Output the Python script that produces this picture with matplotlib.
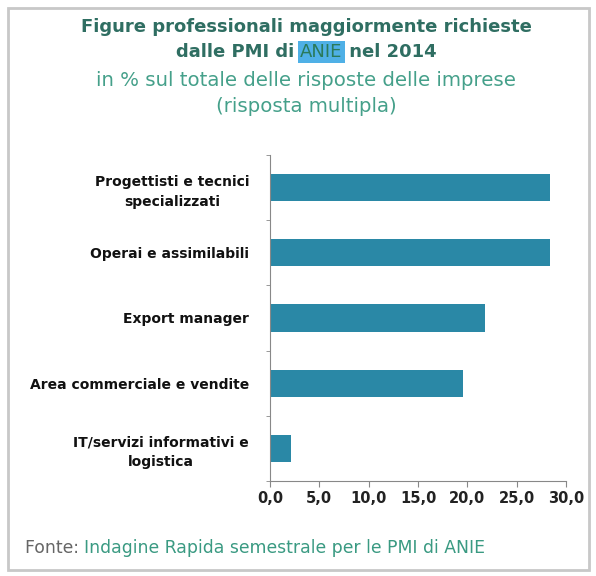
import matplotlib.pyplot as plt
import numpy as np

categorie = ["Progettisti e tecnici\nspecializzati", "Operai e assimilabili", "Export manager",
             "Area commerciale e vendite", "IT/servizi informativi e\nlogistica"]
valori = [28.4, 28.4, 21.8, 19.6, 2.1]
tick_x = [0, 5, 10, 15, 20, 25, 30]
tick_lab = ["0,0", "5,0", "10,0", "15,0", "20,0", "25,0", "30,0"]

fig = plt.figure(figsize=(5.96, 5.76), dpi=100)
fig.patch.set_facecolor("white")

# bordo grigio
fig.add_artist(plt.Rectangle((8 / 596, 6 / 576), 581 / 596, 562 / 576, transform=fig.transFigure,
                             fill=False, edgecolor="#c8c8c8", linewidth=2))

ax = fig.add_axes([270 / 596, 1 - 481 / 576, 296 / 596, 326 / 576])
y = np.arange(len(categorie))[::-1]
ax.barh(y, valori, height=0.42, color="#2a88a6")
ax.set_xlim(0, 30)
ax.set_ylim(-0.5, len(categorie) - 0.5)
ax.set_xticks(tick_x)
ax.set_xticklabels(tick_lab, fontsize=10.5, fontweight="bold", color="#222222")
ax.set_yticks(y)
ax.set_yticklabels(categorie, fontsize=10, fontweight="bold", color="#111111",
                   multialignment="center", linespacing=1.5)
ax.set_yticks(np.arange(len(categorie) + 1) - 0.5, minor=True)
ax.tick_params(axis="y", which="major", length=0, pad=15)
ax.tick_params(axis="y", which="minor", length=3, color="#888888")
ax.tick_params(axis="x", length=4, color="#888888", pad=3)
for s in ["top", "right"]:
    ax.spines[s].set_visible(False)
ax.spines["left"].set_color("#888888")
ax.spines["bottom"].set_color("#888888")

# titolo
tc = "#2f6e62"
fs_t = 13
cx = 306 / 596
fig.text(cx, 1 - 27 / 576, "Figure professionali maggiormente richieste", ha="center", va="center",
         fontsize=fs_t, fontweight="bold", color=tc)

# seconda riga con ANIE evidenziato
parti = ["dalle PMI di ", "ANIE", " nel 2014"]
pesi = ["bold", "normal", "bold"]
renderer = fig.canvas.get_renderer()
testi = []
for p, w in zip(parti, pesi):
    t = fig.text(0, 1 - 52 / 576, p, ha="left", va="center", fontsize=fs_t, fontweight=w, color=tc)
    testi.append(t)
larg = [t.get_window_extent(renderer).width for t in testi]
x0 = 306 - sum(larg) / 2
for t, w in zip(testi, larg):
    t.set_x(x0 / 596)
    x0 += w
testi[1].set_color("#2a7a5a")
testi[1].set_bbox(dict(facecolor="#4fb0e6", edgecolor="none", pad=1.5))

sc = "#45a08a"
fig.text(cx, 1 - 80 / 576, "in % sul totale delle risposte delle imprese", ha="center", va="center",
         fontsize=14.2, color=sc)
fig.text(cx, 1 - 106 / 576, "(risposta multipla)", ha="center", va="center", fontsize=14.2, color=sc)

# fonte
f1 = fig.text(25 / 596, 1 - 548 / 576, "Fonte: ", ha="left", va="center", fontsize=12.4, color="#666666")
w1 = f1.get_window_extent(renderer).width
fig.text((25 + w1) / 596, 1 - 548 / 576, "Indagine Rapida semestrale per le PMI di ANIE", ha="left",
         va="center", fontsize=12.4, color="#3a9a82")

fig.savefig("out.png", dpi=100, facecolor="white")
